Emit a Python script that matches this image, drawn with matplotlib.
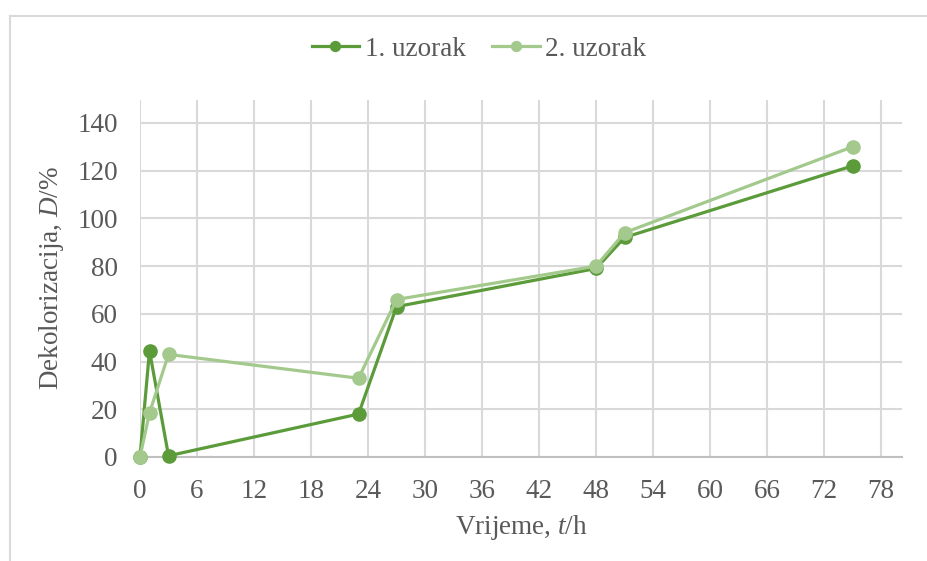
import matplotlib
matplotlib.use("Agg")
import matplotlib.pyplot as plt
from matplotlib.lines import Line2D

plt.rcParams['font.family'] = ['Liberation Serif', 'DejaVu Serif']
plt.rcParams['mathtext.fontset'] = 'custom'
plt.rcParams['mathtext.rm'] = 'Liberation Serif'
plt.rcParams['mathtext.it'] = 'Liberation Serif:italic'

time_h = [0, 1, 3, 23, 27, 48, 51, 75]
sample1 = [0, 44.5, 0.5, 18, 63, 79, 92, 122]
sample2 = [0, 18.5, 43, 33, 66, 80, 94, 130]
series_names = ["1. uzorak", "2. uzorak"]
x_ticks = list(range(0, 79, 6))
y_ticks = list(range(0, 141, 20))

c1 = "#5B9B3A"
c2 = "#A3C98D"
txt = "#595959"
grid = "#D9D9D9"
fs = 19.5

fig = plt.figure(figsize=(9.28, 5.61), dpi=100)
ax = fig.add_axes([140/928, 1-457/561, (902-140)/928, (457-100)/561])

ax.plot(time_h, sample1, color=c1, lw=2.3, marker='o', ms=9.5, label=series_names[0],
        zorder=3, clip_on=False)
ax.plot(time_h, sample2, color=c2, lw=2.3, marker='o', ms=9.5, label=series_names[1],
        zorder=4, clip_on=False)

ax.set_xlim(0, 80.2)
ax.set_ylim(0, 149.6)
ax.set_xticks(x_ticks)
ax.set_yticks(y_ticks)
ax.grid(True, color=grid, lw=1.5, zorder=0)
ax.set_axisbelow(True)
for s in ['top', 'right', 'left']:
    ax.spines[s].set_visible(False)
ax.spines['bottom'].set_color('#BFBFBF')
ax.spines['bottom'].set_linewidth(1.5)
ax.tick_params(axis='both', length=0, labelsize=fs, labelcolor=txt)
ax.tick_params(axis='x', pad=16)
ax.tick_params(axis='y', pad=16)
ax.set_xlabel('Vrijeme, $\\mathit{t}$/h', fontsize=fs, color=txt, labelpad=6)
ax.set_ylabel('Dekolorizacija, $\\mathit{D}$/%', fontsize=fs, color=txt, labelpad=8)

leg = fig.legend(loc='center', bbox_to_anchor=(479/928, 1-49/561), ncol=2, frameon=False,
                 fontsize=fs, handlelength=1.75, columnspacing=1.0, handletextpad=0.2,
                 markerscale=0.75)
for t in leg.get_texts():
    t.set_color(txt)

fig.add_artist(Line2D([10/928, 10/928], [0, 1-16/561], transform=fig.transFigure, color=grid, lw=1.5))
fig.add_artist(Line2D([10/928, 1], [1-16/561, 1-16/561], transform=fig.transFigure, color=grid, lw=1.5))

fig.savefig("out.png", dpi=100)
